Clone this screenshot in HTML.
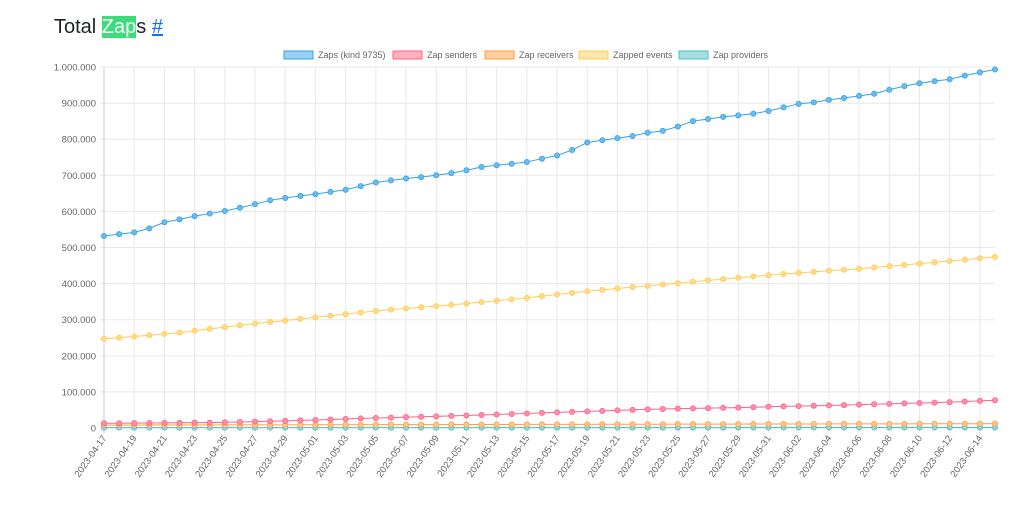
<!DOCTYPE html>
<html><head><meta charset="utf-8"><style>
body{margin:0;background:#fff;font-family:"Liberation Sans",sans-serif;}
h2{position:absolute;left:54px;top:15px;margin:0;font-weight:400;font-size:20px;color:#212529;line-height:24px;}
.hl{background:#3ddc7a;color:#fff;}
a{color:#0d6efd;}
</style></head><body>
<h2>Total <span class="hl">Zap</span>s <a href="#">#</a></h2>
<svg id="c" width="1024" height="507" style="position:absolute;left:0;top:0"></svg>
<script>
const s=document.getElementById('c');let h='';
const X0=104,X1=995,Y0=428,Y1=67,N=60;
const x=i=>X0+(X1-X0)*i/(N-1), y=v=>Y0-(Y0-Y1)*v/1e6;
for(let k=0;k<=10;k++){const yy=y(k*1e5);h+=`<line x1="${X0-4}" x2="${X1}" y1="${yy}" y2="${yy}" stroke="#e8e8e8"/>`;
h+=`<text x="${X0-8}" y="${yy+3.5}" font-size="9.5" fill="#666" text-anchor="end">${k==0?'0':(k*100000).toLocaleString('de-DE')}</text>`;}
const d0=new Date(Date.UTC(2023,3,17));
for(let i=0;i<N;i+=2){const xx=x(i);h+=`<line x1="${xx}" x2="${xx}" y1="${Y1}" y2="${Y0+5}" stroke="${i==0?'#ccc':'#e8e8e8'}"/>`;
const d=new Date(d0.getTime()+i*864e5).toISOString().slice(0,10);
h+=`<text transform="translate(${xx+3},${Y0+10}) rotate(-55)" font-size="9.5" fill="#666" text-anchor="end">${d}</text>`;}
function interp(a){const r=[];for(let i=0;i<N;i++){const t=i*(a.length-1)/(N-1),j=Math.floor(t),f=t-j;r.push(j>=a.length-1?a[a.length-1]:a[j]*(1-f)+a[j+1]*f);}return r;}
const blue=[532,537,542,553,570,578,587,594,601,610,620,631,637,643,648,654,660,670,680,686,691,695,700,706,714,723,728,732,737,746,755,770,791,797,803,809,818,823,835,850,856,862,866,871,878,888,898,902,909,914,920,926,937,947,955,961,966,976,985,993].map(v=>v*1000);
const yel=interp([247,262,285,305,325,340,357,378,395,412,428,441,457,474]).map(v=>v*1000);
const pink=interp([13,14,15,18,22,27,31,35,40,45,50,54,56,60,63,67,71,77]).map(v=>v*1000);
const org=interp([8,9,10,11,12]).map(v=>v*1000);
const teal=interp([1,1,1.5]).map(v=>v*1000);
function ser(d,c,f){h+=`<polyline fill="none" stroke="${c}" stroke-width="1" points="${d.map((v,i)=>x(i)+','+y(v)).join(' ')}"/>`;
d.forEach((v,i)=>h+=`<circle cx="${x(i)}" cy="${y(v)}" r="2.6" fill="${f}" stroke="${c}" stroke-width="0.8"/>`);}
ser(teal,'#4bc0c0','#8fd8d8');ser(org,'#ff9f40','#ffc690');ser(pink,'#ff6384','#ff8fa8');ser(yel,'#ffcd56','#ffdb88');ser(blue,'#36a2eb','#6cbbf0');
const L=[['Zaps (kind 9735)','#36a2eb','#9ad0f5',284],['Zap senders','#ff6384','#ffb1c1',393],['Zap receivers','#ff9f40','#ffcf9f',485],['Zapped events','#ffcd56','#ffe6aa',579],['Zap providers','#4bc0c0','#a5dfdf',679]];
L.forEach(([t,c,f,lx])=>{h+=`<rect x="${lx}" y="51" width="29" height="8" fill="${f}" stroke="${c}"/><text x="${lx+34}" y="58" font-size="9" fill="#666">${t}</text>`;});
s.innerHTML=h;
</script>
</body></html>
